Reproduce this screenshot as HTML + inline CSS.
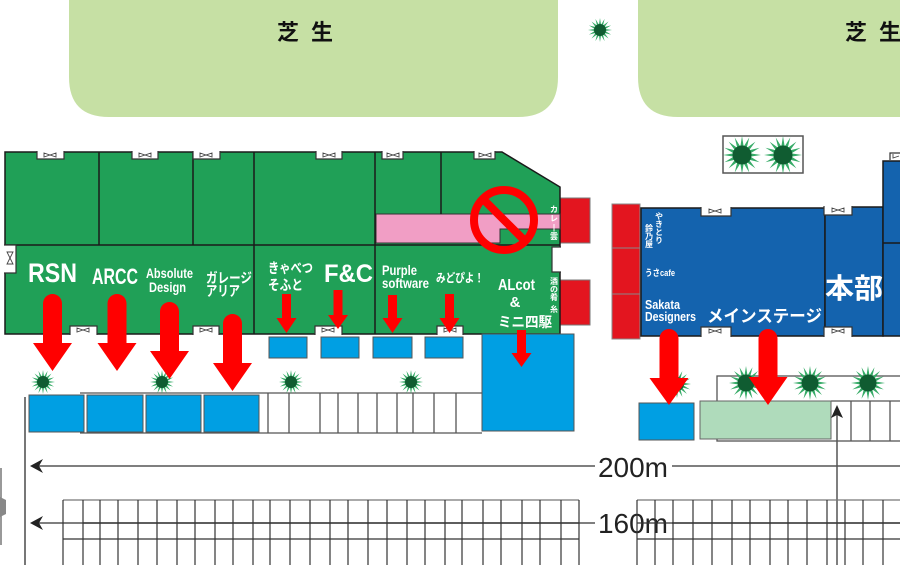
<!DOCTYPE html>
<html><head><meta charset="utf-8"><style>
html,body{margin:0;padding:0;background:#fff;}
svg{display:block;}
.w{fill:#fff;font-family:"Liberation Sans","Noto Sans CJK JP",sans-serif;font-weight:bold;}
.k{font-family:"Liberation Sans","Noto Sans CJK JP",sans-serif;}
</style></head><body>
<svg width="900" height="565" viewBox="0 0 900 565" xmlns="http://www.w3.org/2000/svg">
<defs>
<symbol id="tr" viewBox="-1 -1 2 2"><polygon fill="#36ab67" points="1,0 .441,.088 .924,.383 .374,.25 .707,.707 .25,.374 .383,.924 .088,.441 0,1 -.088,.441 -.383,.924 -.25,.374 -.707,.707 -.374,.25 -.924,.383 -.441,.088 -1,0 -.441,-.088 -.924,-.383 -.374,-.25 -.707,-.707 -.25,-.374 -.383,-.924 -.088,-.441 0,-1 .088,-.441 .383,-.924 .25,-.374 .707,-.707 .374,-.25 .924,-.383 .441,-.088"/><circle r=".5" fill="#105c31"/></symbol>
</defs>
<!-- lawns -->
<path d="M69,0 H558 V77 Q558,117 518,117 H109 Q69,117 69,77 Z" fill="#c6e0a4"/>
<path d="M638,0 H900 V117 H678 Q638,117 638,77 Z" fill="#c6e0a4"/>
<text class="k" x="277" y="40" font-size="22" font-weight="bold" textLength="56" fill="#111">芝 生</text>
<text class="k" x="845" y="40" font-size="22" font-weight="bold" textLength="56" fill="#111">芝 生</text>
<use href="#tr" x="588" y="18" width="24" height="24"/>

<!-- tree box top -->
<rect x="723" y="136" width="80" height="37" fill="#fff" stroke="#555" stroke-width="1.5"/>
<use href="#tr" x="723" y="136" width="38" height="38"/>
<use href="#tr" x="764" y="136" width="38" height="38"/>

<!-- parking upper row left -->
<g stroke="#555" stroke-width="1.3" fill="none">
<line x1="80" y1="393" x2="482" y2="393"/>
<line x1="80" y1="433" x2="482" y2="433"/>
<line x1="268" y1="393" x2="268" y2="433"/><line x1="289" y1="393" x2="289" y2="433"/>
<line x1="320" y1="393" x2="320" y2="433"/><line x1="338" y1="393" x2="338" y2="433"/>
<line x1="358" y1="393" x2="358" y2="433"/><line x1="377" y1="393" x2="377" y2="433"/>
<line x1="397" y1="393" x2="397" y2="433"/><line x1="413" y1="393" x2="413" y2="433"/>
<line x1="434" y1="393" x2="434" y2="433"/><line x1="456" y1="393" x2="456" y2="433"/>
</g>
<g fill="#009fe3" stroke="#555" stroke-width="1">
<rect x="29" y="395" width="55" height="37"/>
<rect x="87" y="395" width="56" height="37"/>
<rect x="146" y="395" width="55" height="37"/>
<rect x="204" y="395" width="55" height="37"/>
</g>
<!-- left vertical line and gate -->
<line x1="25" y1="397" x2="25" y2="565" stroke="#777" stroke-width="2"/>
<line x1="1" y1="468" x2="1" y2="545" stroke="#777" stroke-width="1.5"/>
<path d="M0,497 L6,500 L6,514 L0,517 Z" fill="#888"/>

<!-- right parking strip -->
<rect x="717" y="376" width="190" height="65" fill="#fff" stroke="#555" stroke-width="1.3"/>
<g stroke="#555" stroke-width="1.3">
<line x1="831" y1="401" x2="900" y2="401"/>
<line x1="851" y1="401" x2="851" y2="441"/><line x1="870" y1="401" x2="870" y2="441"/><line x1="890" y1="401" x2="890" y2="441"/>
</g>
<use href="#tr" x="729" y="366" width="34" height="34"/>
<use href="#tr" x="793" y="366" width="34" height="34"/>
<use href="#tr" x="851" y="366" width="34" height="34"/>
<use href="#tr" x="663" y="370" width="28" height="28"/>
<rect x="700" y="401" width="131" height="38" fill="#afdbbb" stroke="#666" stroke-width="1"/>
<rect x="639" y="403" width="55" height="37" fill="#009fe3" stroke="#555" stroke-width="1"/>

<!-- trees along left row -->
<use href="#tr" x="31" y="370" width="24" height="24"/>
<use href="#tr" x="150" y="370" width="24" height="24"/>
<use href="#tr" x="279" y="370" width="24" height="24"/>
<use href="#tr" x="399" y="370" width="24" height="24"/>

<!-- distance lines -->
<g stroke="#555" stroke-width="1.5">
<line x1="36" y1="466" x2="595" y2="466"/><line x1="672" y1="466" x2="900" y2="466"/>
<line x1="36" y1="523" x2="595" y2="523"/><line x1="672" y1="523" x2="900" y2="523"/>
<line x1="837" y1="412" x2="837" y2="565"/>
</g>
<path d="M30,466 L43,459 L39,466 L43,473 Z" fill="#222"/>
<path d="M30,523 L43,516 L39,523 L43,530 Z" fill="#222"/>
<path d="M837,405 L831,418 L837,415 L843,418 Z" fill="#222"/>
<text class="k" x="633" y="477" font-size="28" text-anchor="middle" fill="#222">200m</text>
<text class="k" x="633" y="533" font-size="28" text-anchor="middle" fill="#222">160m</text>

<!-- bottom grids -->
<g stroke="#333" stroke-width="1.2" fill="none">
<line x1="63" y1="500" x2="579" y2="500" stroke="#777"/>
<line x1="83" y1="523" x2="579" y2="523"/>
<line x1="63" y1="539" x2="579" y2="539"/>
<line x1="63" y1="500" x2="63" y2="565"/><line x1="83" y1="500" x2="83" y2="565"/>
<line x1="100" y1="500" x2="100" y2="565"/><line x1="118" y1="500" x2="118" y2="565"/>
<line x1="138" y1="500" x2="138" y2="565"/><line x1="157" y1="500" x2="157" y2="565"/>
<line x1="177" y1="500" x2="177" y2="565"/><line x1="195" y1="500" x2="195" y2="565"/>
<line x1="215" y1="500" x2="215" y2="565"/><line x1="233" y1="500" x2="233" y2="565"/>
<line x1="253" y1="500" x2="253" y2="565"/><line x1="270" y1="500" x2="270" y2="565"/>
<line x1="290" y1="500" x2="290" y2="565"/><line x1="310" y1="500" x2="310" y2="565"/>
<line x1="330" y1="500" x2="330" y2="565"/><line x1="348" y1="500" x2="348" y2="565"/>
<line x1="368" y1="500" x2="368" y2="565"/><line x1="387" y1="500" x2="387" y2="565"/>
<line x1="407" y1="500" x2="407" y2="565"/><line x1="425" y1="500" x2="425" y2="565"/>
<line x1="445" y1="500" x2="445" y2="565"/><line x1="462" y1="500" x2="462" y2="565"/>
<line x1="483" y1="500" x2="483" y2="565"/><line x1="501" y1="500" x2="501" y2="565"/>
<line x1="522" y1="500" x2="522" y2="565"/><line x1="540" y1="500" x2="540" y2="565"/>
<line x1="561" y1="500" x2="561" y2="565"/><line x1="579" y1="500" x2="579" y2="565"/>
<line x1="637" y1="500" x2="900" y2="500" stroke="#777"/>
<line x1="637" y1="523" x2="900" y2="523"/>
<line x1="637" y1="539" x2="900" y2="539"/>
<line x1="637" y1="500" x2="637" y2="565"/><line x1="655" y1="500" x2="655" y2="565"/>
<line x1="673" y1="500" x2="673" y2="565"/><line x1="693" y1="500" x2="693" y2="565"/>
<line x1="712" y1="500" x2="712" y2="565"/><line x1="732" y1="500" x2="732" y2="565"/>
<line x1="750" y1="500" x2="750" y2="565"/><line x1="770" y1="500" x2="770" y2="565"/>
<line x1="788" y1="500" x2="788" y2="565"/><line x1="807" y1="500" x2="807" y2="565"/>
<line x1="827" y1="500" x2="827" y2="565"/><line x1="845" y1="500" x2="845" y2="565"/>
<line x1="863" y1="500" x2="863" y2="565"/><line x1="883" y1="500" x2="883" y2="565"/>
</g>

<!-- red strips next to green building -->
<g fill="#e3151f" stroke="#777" stroke-width="1">
<rect x="560" y="198" width="30" height="45"/>
<rect x="560" y="280" width="30" height="45"/>
</g>

<!-- green building -->
<path d="M5,152 H502 L560,187 V334 H5 Z" fill="#20a057" stroke="#1a1a1a" stroke-width="1.5"/>
<path d="M376,214 H560 V229 H500 V243 H376 Z" fill="#f19ec5" stroke="#333" stroke-width="1"/>
<g stroke="#1a1a1a" stroke-width="1.5">
<line x1="5" y1="245" x2="560" y2="245"/>
<line x1="99" y1="152" x2="99" y2="245"/>
<line x1="193" y1="152" x2="193" y2="245"/>
<line x1="254" y1="152" x2="254" y2="334"/>
<line x1="375" y1="152" x2="375" y2="334"/>
<line x1="441" y1="152" x2="441" y2="214"/>
</g>
<!-- door notches -->
<g fill="#fff" stroke="#333" stroke-width="1.2">
<path d="M37,151 V159 H64 V151"/><path d="M132,151 V159 H158 V151"/><path d="M193,151 V159 H220 V151"/>
<path d="M316,151 V159 H342 V151"/><path d="M382,151 V159 H403 V151"/><path d="M474,151 V159 H495 V151"/>
<path d="M70,335 V326 H97 V335"/><path d="M193,335 V326 H219 V335"/><path d="M315,335 V326 H342 V335"/><path d="M437,335 V326 H463 V335"/>
<path d="M4,245 H16 V273 H4"/>
<path d="M561,247 H552 V272 H561"/>
</g>
<g fill="none" stroke="#444" stroke-width="0.9">
<path d="M44,153 V157 L50,155 L56,157 V153 L50,155 Z"/>
<path d="M139,153 V157 L145,155 L151,157 V153 L145,155 Z"/>
<path d="M200,153 V157 L206,155 L212,157 V153 L206,155 Z"/>
<path d="M323,153 V157 L329,155 L335,157 V153 L329,155 Z"/>
<path d="M387,153 V157 L393,155 L399,157 V153 L393,155 Z"/>
<path d="M479,153 V157 L485,155 L491,157 V153 L485,155 Z"/>
<path d="M77,328 V332 L83,330 L89,332 V328 L83,330 Z"/>
<path d="M200,328 V332 L206,330 L212,332 V328 L206,330 Z"/>
<path d="M322,328 V332 L328,330 L334,332 V328 L328,330 Z"/>
<path d="M444,328 V332 L450,330 L456,332 V328 L450,330 Z"/>
<path d="M7,252 H13 L10,258 L13,264 H7 L10,258 Z"/>
</g>

<!-- no sign -->
<circle cx="504" cy="220" r="30" fill="none" stroke="#ff0000" stroke-width="8"/>
<line x1="483" y1="199" x2="525" y2="241" stroke="#ff0000" stroke-width="8"/>

<!-- blue boxes under green -->
<g fill="#009fe3" stroke="#555" stroke-width="1">
<rect x="269" y="337" width="38" height="21"/>
<rect x="321" y="337" width="38" height="21"/>
<rect x="373" y="337" width="39" height="21"/>
<rect x="425" y="337" width="38" height="21"/>
<rect x="482" y="334" width="92" height="97"/>
</g>

<!-- blue building -->
<g fill="#e3151f" stroke="#888" stroke-width="1">
<rect x="612" y="204" width="28" height="44"/>
<rect x="612" y="248" width="28" height="46"/>
<rect x="612" y="294" width="28" height="45"/>
</g>
<rect x="641" y="208" width="184" height="128" fill="#1463ae" stroke="#1a1a1a" stroke-width="1.5"/>
<rect x="825" y="207" width="58" height="129" fill="#1463ae" stroke="#1a1a1a" stroke-width="1.5"/>
<rect x="883" y="161" width="30" height="175" fill="#1463ae" stroke="#1a1a1a" stroke-width="1.5"/>
<line x1="883" y1="243" x2="900" y2="243" stroke="#1a1a1a" stroke-width="1.5"/>
<g fill="#fff" stroke="#333" stroke-width="1.2">
<path d="M701,207 V216 H731 V207"/><path d="M824,206 V215 H852 V206"/>
<path d="M701,337 V327 H731 V337"/><path d="M824,337 V327 H852 V337"/>
<path d="M890,160 V153 H902 V160"/>
</g>
<g fill="none" stroke="#444" stroke-width="0.9">
<path d="M709,209 V213 L715,211 L721,213 V209 L715,211 Z"/>
<path d="M832,208 V212 L838,210 L844,212 V208 L838,210 Z"/>
<path d="M709,329 V333 L715,331 L721,333 V329 L715,331 Z"/>
<path d="M832,329 V333 L838,331 L844,333 V329 L838,331 Z"/>
<path d="M893,154 V158 L899,156"/>
</g>

<!-- labels green -->
<text class="w" x="28" y="282" font-size="27" textLength="49" lengthAdjust="spacingAndGlyphs">RSN</text>
<text class="w" x="92" y="284" font-size="22" textLength="46" lengthAdjust="spacingAndGlyphs">ARCC</text>
<text class="w" x="146" y="278" font-size="13.5" textLength="47" lengthAdjust="spacingAndGlyphs">Absolute</text>
<text class="w" x="149" y="292" font-size="13.5" textLength="37" lengthAdjust="spacingAndGlyphs">Design</text>
<text class="w" x="206" y="283" font-size="14" textLength="46" lengthAdjust="spacingAndGlyphs">ガレージ</text>
<text class="w" x="206" y="296" font-size="14" textLength="34" lengthAdjust="spacingAndGlyphs">アリア</text>
<text class="w" x="268" y="273" font-size="14" textLength="45" lengthAdjust="spacingAndGlyphs">きゃべつ</text>
<text class="w" x="268" y="290" font-size="14" textLength="35" lengthAdjust="spacingAndGlyphs">そふと</text>
<text class="w" x="324" y="282" font-size="25" textLength="49" lengthAdjust="spacingAndGlyphs">F&amp;C</text>
<text class="w" x="382" y="275" font-size="14" textLength="35" lengthAdjust="spacingAndGlyphs">Purple</text>
<text class="w" x="382" y="288" font-size="14" textLength="47" lengthAdjust="spacingAndGlyphs">software</text>
<text class="w" x="436" y="282" font-size="12" textLength="48" lengthAdjust="spacingAndGlyphs">みどぴよ！</text>
<text class="w" x="498" y="290" font-size="16" textLength="37" lengthAdjust="spacingAndGlyphs">ALcot</text>
<text class="w" x="515" y="307" font-size="15" text-anchor="middle">&amp;</text>
<text class="w" x="498" y="327" font-size="14" textLength="54" lengthAdjust="spacingAndGlyphs">ミニ四駆</text>
<g class="w" font-size="8" text-anchor="middle">
<text x="554" y="212">カ</text><text x="554" y="221">レ</text><text x="554" y="230">|</text><text x="554" y="239">雲</text>
<text x="554" y="284">酒</text><text x="554" y="292">の</text><text x="554" y="300">肴</text><text x="554" y="312">糸</text>
<text x="659" y="219">や</text><text x="659" y="227">き</text><text x="659" y="235">と</text><text x="659" y="243">り</text>
<text x="649" y="231">鈴</text><text x="649" y="239">乃</text><text x="649" y="247">屋</text>
</g>
<text class="w" x="645" y="276" font-size="9" textLength="30" lengthAdjust="spacingAndGlyphs">うさcafe</text>
<text class="w" x="645" y="309" font-size="13" textLength="35" lengthAdjust="spacingAndGlyphs">Sakata</text>
<text class="w" x="645" y="321" font-size="13" textLength="51" lengthAdjust="spacingAndGlyphs">Designers</text>
<text class="w" x="707" y="322" font-size="17" textLength="115" lengthAdjust="spacingAndGlyphs">メインステージ</text>
<text class="w" x="825" y="298" font-size="28" textLength="58" lengthAdjust="spacingAndGlyphs">本部</text>

<!-- red arrows -->
<g fill="#ff0000">
<path d="M43,343 V303.5 A9.5,9.5 0 0 1 62,303.5 V343 H72 L52.5,371 L33,343 Z"/>
<path d="M107.5,343 V303.5 A9.5,9.5 0 0 1 126.5,303.5 V343 H136.5 L117,371 L97.5,343 Z"/>
<path d="M160,351 V311.5 A9.5,9.5 0 0 1 179,311.5 V351 H189 L169.5,379 L150,351 Z"/>
<path d="M223,363 V323.5 A9.5,9.5 0 0 1 242,323.5 V363 H252 L232.5,391 L213,363 Z"/>
<path d="M659.5,378 V338.5 A9.5,9.5 0 0 1 678.5,338.5 V378 H688.5 L669,405 L649.5,378 Z"/>
<path d="M758.5,377 V338.5 A9.5,9.5 0 0 1 777.5,338.5 V377 H787.5 L768,405 L748.5,377 Z"/>
<path d="M282,294 H291 V318 H296.5 L286.5,333 L276.5,318 H282 Z"/>
<path d="M333.5,290 H342.5 V315 H348 L338,329 L328,315 H333.5 Z"/>
<path d="M388,295 H397 V318 H402.5 L392.5,333 L382.5,318 H388 Z"/>
<path d="M445,294 H454 V318 H459.5 L449.5,333 L439.5,318 H445 Z"/>
<path d="M517,330 H526 V353 H531.5 L521.5,367 L511.5,353 H517 Z"/>
</g>
</svg>
</body></html>
